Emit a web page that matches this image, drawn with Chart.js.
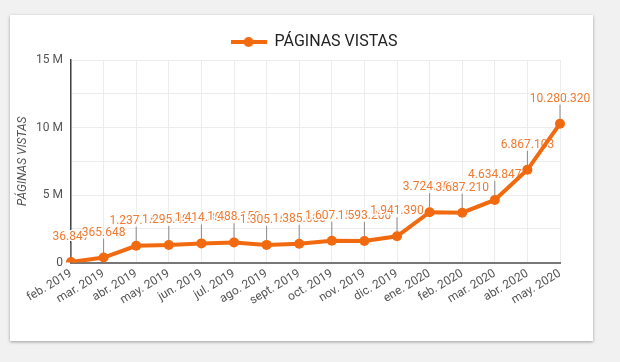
<!DOCTYPE html>
<html>
<head>
<meta charset="utf-8">
<script src="https://cdn.jsdelivr.net/npm/chart.js@4"></script>
<style>
  html, body { margin: 0; padding: 0; }
  body { width: 620px; height: 362px; background: #f1f1f1; position: relative; overflow: hidden; }
  .card { position: absolute; left: 10px; top: 15px; width: 583px; height: 326px; background: #fff;
          box-shadow: 0 1px 3px rgba(0,0,0,0.35); }
  #chart { position: absolute; left: 0; top: 0; }
</style>
</head>
<body>
<div class="card"></div>
<canvas id="chart" width="620" height="362"></canvas>
<script>
var months = ['feb. 2019', 'mar. 2019', 'abr. 2019', 'may. 2019', 'jun. 2019', 'jul. 2019', 'ago. 2019',
  'sept. 2019', 'oct. 2019', 'nov. 2019', 'dic. 2019', 'ene. 2020', 'feb. 2020', 'mar. 2020', 'abr. 2020', 'may. 2020'];
var pageViews = [36847, 365648, 1237150, 1295400, 1414300, 1488150, 1305100, 1385600,
  1607150, 1593200, 1941390, 3724500, 3687210, 4634847, 6867103, 10280320];
var seriesName = 'PÁGINAS VISTAS';
var yTickValues = [0, 5000000, 10000000, 15000000];
var yTickLabels = ['0', '5 M', '10 M', '15 M'];

var orange = '#f26a10';
var labelOrange = '#ef7a32';

function dots(n) {
  return String(Math.round(n)).replace(/\B(?=(\d{3})+(?!\d))/g, '.');
}

// legend marker: line with a dot in the middle
var marker = document.createElement('canvas');
marker.width = 36;
marker.height = 12;
var mctx = marker.getContext('2d');
mctx.strokeStyle = orange;
mctx.lineWidth = 4;
mctx.beginPath();
mctx.moveTo(0, 6);
mctx.lineTo(36, 6);
mctx.stroke();
mctx.fillStyle = orange;
mctx.beginPath();
mctx.arc(18, 6, 5, 0, Math.PI * 2);
mctx.fill();

var valueLabels = {
  id: 'valueLabels',
  beforeDatasetsDraw: function(chart) {
    var ctx = chart.ctx;
    var meta = chart.getDatasetMeta(0);
    ctx.save();
    ctx.font = '12px Roboto';
    ctx.textAlign = 'center';
    ctx.textBaseline = 'middle';
    meta.data.forEach(function(pt, i) {
      var x = pt.x, y = pt.y;
      ctx.strokeStyle = '#8a8a8a';
      ctx.lineWidth = 1;
      ctx.beginPath();
      ctx.moveTo(x, y - 4);
      ctx.lineTo(x, y - 19);
      ctx.stroke();
      var txt = dots(pageViews[i]);
      ctx.strokeStyle = '#fff';
      ctx.lineWidth = 3;
      ctx.lineJoin = 'round';
      ctx.strokeText(txt, x, y - 25);
      ctx.fillStyle = labelOrange;
      ctx.fillText(txt, x, y - 25);
    });
    ctx.restore();
  }
};

// the legend sits centred on the card, not on the canvas minus right padding
var legendShift = {
  id: 'legendShift',
  afterLayout: function(chart) {
    chart.legend.left += 34;
    chart.legend.right += 34;
  }
};

var ctx = document.getElementById('chart').getContext('2d');
var chart = new Chart(ctx, {
  type: 'line',
  data: {
    labels: months,
    datasets: [{
      label: seriesName,
      data: pageViews,
      borderColor: orange,
      backgroundColor: orange,
      borderWidth: 4,
      pointRadius: 5,
      pointBackgroundColor: orange,
      pointBorderWidth: 0,
      tension: 0,
      fill: false
    }]
  },
  options: {
    responsive: false,
    animation: false,
    layout: { padding: { top: 0, left: 0, right: 60, bottom: 0 } },
    plugins: {
      legend: {
        display: true,
        labels: {
          usePointStyle: true,
          pointStyle: marker,
          pointStyleWidth: 36,
          padding: 34,
          color: '#222',
          font: { family: 'Roboto', size: 16 }
        }
      },
      tooltip: { enabled: false }
    },
    scales: {
      x: {
        offset: false,
        grid: { color: '#ececec', drawTicks: false },
        border: { color: '#777', width: 2 },
        ticks: {
          autoSkip: false,
          minRotation: 31,
          maxRotation: 31,
          padding: 4,
          color: '#555',
          font: { family: 'Roboto', size: 12 }
        },
        afterFit: function(scale) { scale.height = 99.5; }
      },
      y: {
        min: 0,
        max: 15000000,
        grid: { color: '#ececec', drawTicks: false },
        border: { color: '#444', width: 1.5 },
        ticks: {
          stepSize: 2500000,
          padding: 8,
          color: '#555',
          font: { family: 'Roboto', size: 12 },
          callback: function(v) {
            var k = yTickValues.indexOf(v);
            return k >= 0 ? yTickLabels[k] : '';
          }
        },
        title: {
          display: true,
          text: seriesName,
          color: '#555',
          padding: { top: 16, bottom: 0 },
          font: { family: 'Roboto', size: 12, style: 'italic' }
        },
        afterFit: function(scale) { scale.width = 71; }
      }
    }
  },
  plugins: [valueLabels, legendShift]
});
</script>
</body>
</html>
